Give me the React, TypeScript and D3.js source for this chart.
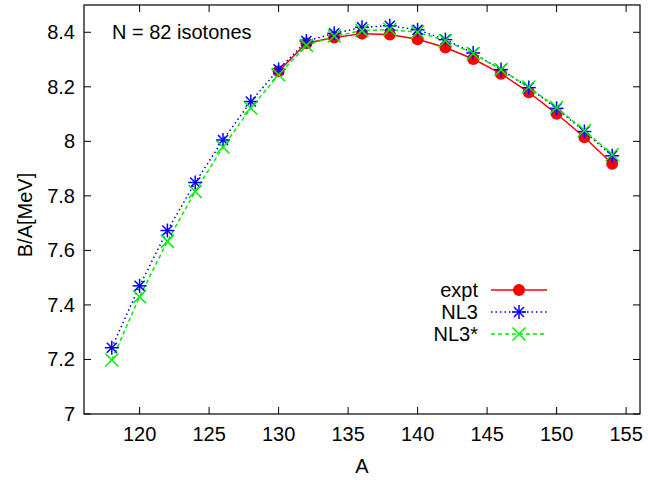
import React from "react";
import * as d3 from "d3";

const massNumbers = [118, 120, 122, 124, 126, 128, 130, 132, 134, 136, 138, 140, 142, 144, 146, 148, 150, 152, 154];
const exptA = [130, 132, 134, 136, 138, 140, 142, 144, 146, 148, 150, 152, 154];
const exptValues = [8.257, 8.36, 8.381, 8.395, 8.392, 8.374, 8.344, 8.302, 8.248, 8.18, 8.101, 8.015, 7.918];
const nl3Values = [7.243, 7.47, 7.673, 7.849, 8.005, 8.146, 8.264, 8.368, 8.396, 8.418, 8.424, 8.409, 8.373, 8.324, 8.263, 8.197, 8.121, 8.036, 7.947];
const nl3sValues = [7.198, 7.43, 7.633, 7.816, 7.979, 8.122, 8.244, 8.352, 8.386, 8.406, 8.41, 8.4, 8.37, 8.322, 8.263, 8.199, 8.124, 8.04, 7.952];
const xTicks = [120, 125, 130, 135, 140, 145, 150, 155];
const yTicks = [7, 7.2, 7.4, 7.6, 7.8, 8, 8.2, 8.4];
const legendLabels = ["expt", "NL3", "NL3*"];

const W = 648, H = 480;
const left = 84, right = 640, top = 5, bottom = 414;
const font = "'Liberation Sans', Arial, Helvetica, sans-serif";
const fs = 20;

function Star({ x, y, c }: { x: number; y: number; c: string }) {
  const s = 7;
  const d = s * 0.72;
  return (
    <g stroke={c} strokeWidth={1.5}>
      <line x1={x - s} y1={y} x2={x + s} y2={y} />
      <line x1={x} y1={y - s} x2={x} y2={y + s} />
      <line x1={x - d} y1={y - d} x2={x + d} y2={y + d} />
      <line x1={x - d} y1={y + d} x2={x + d} y2={y - d} />
    </g>
  );
}
function Cross({ x, y, c }: { x: number; y: number; c: string }) {
  const s = 6.5;
  return (
    <g stroke={c} strokeWidth={1.5}>
      <line x1={x - s} y1={y - s} x2={x + s} y2={y + s} />
      <line x1={x - s} y1={y + s} x2={x + s} y2={y - s} />
    </g>
  );
}

export default function App() {
  const x = d3.scaleLinear().domain([116, 156]).range([left, right]);
  const y = d3.scaleLinear().domain([7, 8.5]).range([bottom, top]);
  const line = d3.line<[number, number]>().x((d) => x(d[0])).y((d) => y(d[1]));
  const expt: [number, number][] = exptA.map((a, i) => [a, exptValues[i]]);
  const nl3: [number, number][] = massNumbers.map((a, i) => [a, nl3Values[i]]);
  const nl3s: [number, number][] = massNumbers.map((a, i) => [a, nl3sValues[i]]);
  const red = "#ff0000", blue = "#0000ff", green = "#00ee00";
  const legY = [290, 312, 334];
  return (
    <svg width={W} height={H} style={{ position: "absolute", left: 0, top: 0, background: "#fff" }} fontFamily={font}>
      {xTicks.map((t) => (
        <g key={"x" + t}>
          <line x1={x(t)} x2={x(t)} y1={bottom} y2={bottom - 7} stroke="#000" />
          <line x1={x(t)} x2={x(t)} y1={top} y2={top + 7} stroke="#000" />
          <text x={x(t)} y={441} textAnchor="middle" fontSize={fs}>{t}</text>
        </g>
      ))}
      {yTicks.map((t) => (
        <g key={"y" + t}>
          <line x1={left} x2={left + 7} y1={y(t)} y2={y(t)} stroke="#000" />
          <line x1={right} x2={right - 7} y1={y(t)} y2={y(t)} stroke="#000" />
          <text x={75} y={y(t) + 7} textAnchor="end" fontSize={fs}>{t}</text>
        </g>
      ))}
      <rect x={left} y={top} width={right - left} height={bottom - top} fill="none" stroke="#000" strokeWidth={1.2} />
      <text x={362} y={473} textAnchor="middle" fontSize={fs}>A</text>
      <text transform={`translate(31.5,215) rotate(-90)`} textAnchor="middle" fontSize={fs}>B/A[MeV]</text>
      <text x={112} y={39} fontSize={fs}>N = 82 isotones</text>

      <path d={line(expt) || ""} fill="none" stroke={red} strokeWidth={1.5} />
      <path d={line(nl3) || ""} fill="none" stroke={blue} strokeWidth={1.5} strokeDasharray="1.5,3" />
      <path d={line(nl3s) || ""} fill="none" stroke={green} strokeWidth={1.5} strokeDasharray="4,3" />
      {expt.map((d, i) => <circle key={"e" + i} cx={x(d[0])} cy={y(d[1])} r={6} fill={red} />)}
      {nl3.map((d, i) => <Star key={"n" + i} x={x(d[0])} y={y(d[1])} c={blue} />)}
      {nl3s.map((d, i) => <Cross key={"s" + i} x={x(d[0])} y={y(d[1])} c={green} />)}

      {legendLabels.map((l, i) => (
        <text key={l} x={478} y={legY[i] + 7} textAnchor="end" fontSize={fs}>{l}</text>
      ))}
      <line x1={491} x2={547} y1={legY[0]} y2={legY[0]} stroke={red} strokeWidth={1.5} />
      <circle cx={519} cy={legY[0]} r={6} fill={red} />
      <line x1={491} x2={547} y1={legY[1]} y2={legY[1]} stroke={blue} strokeWidth={1.5} strokeDasharray="1.5,3" />
      <Star x={519} y={legY[1]} c={blue} />
      <line x1={491} x2={547} y1={legY[2]} y2={legY[2]} stroke={green} strokeWidth={1.5} strokeDasharray="4,3" />
      <Cross x={519} y={legY[2]} c={green} />
    </svg>
  );
}
